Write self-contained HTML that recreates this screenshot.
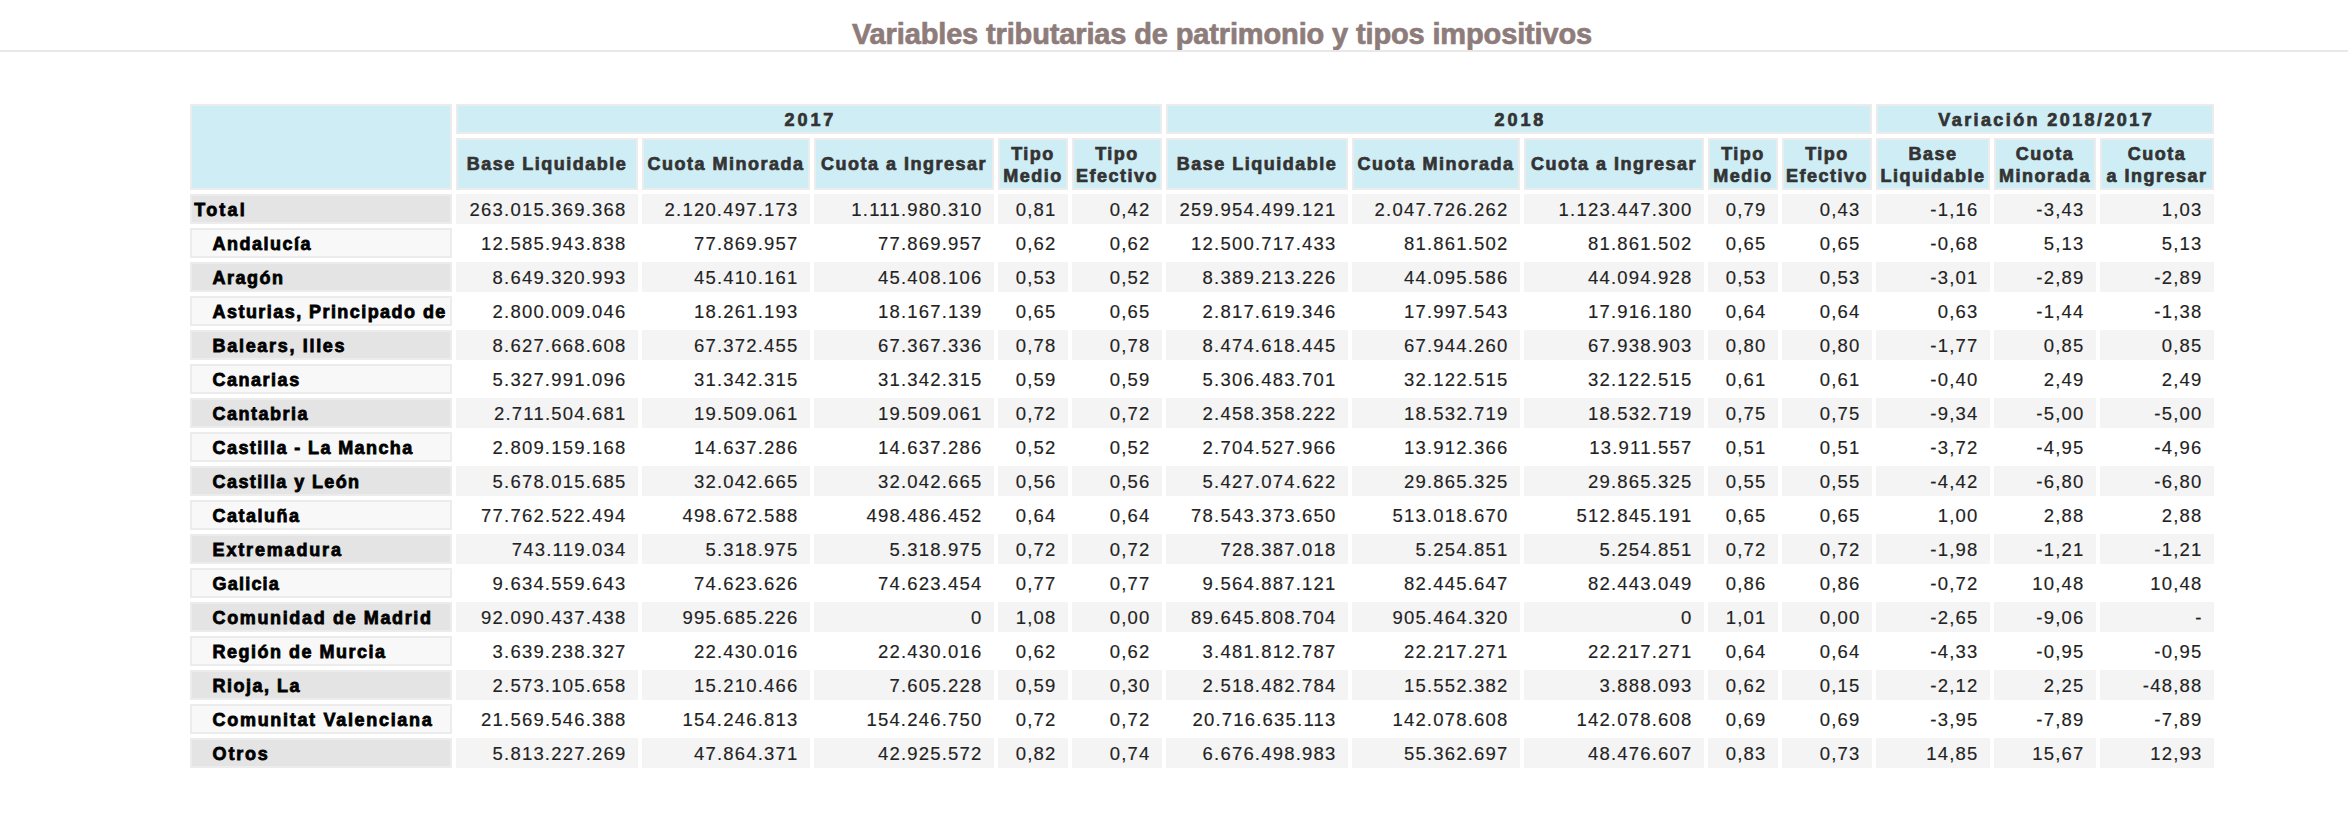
<!DOCTYPE html>
<html><head><meta charset="utf-8"><style>
*{margin:0;padding:0;box-sizing:border-box}
html,body{width:2348px;height:816px;background:#fff;overflow:hidden;position:relative;font-family:"Liberation Sans",sans-serif}
.title{position:absolute;left:0;top:19px;width:2348px;text-align:left;white-space:nowrap}
.title span{position:absolute;left:852px;font-weight:bold;font-size:29px;color:#8e7c7a;letter-spacing:-0.14px;line-height:30px;-webkit-text-stroke:0.7px #8e7c7a}
.rule{position:absolute;left:0;top:50px;width:2348px;height:2px;background:#e8e8e8}
.c{position:absolute;border:2px solid;white-space:nowrap;overflow:hidden}
.c span{position:absolute}
.h{background:#cfedf5;border-color:#ececec;color:#333;font-weight:bold;font-size:18px;letter-spacing:1.49px;-webkit-text-stroke:0.7px #333}
.h span{left:0;right:0;text-align:center}
.hy span{top:3px;line-height:22px}
.hs span{top:13px;line-height:22px}
.hs.two span{top:3px;line-height:22px}
.l{color:#000;font-weight:bold;font-size:18px;letter-spacing:1.5px;-webkit-text-stroke:0.8px #000}
.l span{left:2.3px;top:3px;line-height:22px}
.l.ind span{left:20.6px}
.lo{background:#e4e4e4;border-color:#ececec}
.le{background:#f8f8f8;border-color:#ececec}
.d{color:#222;font-size:18.5px;letter-spacing:1.2px;-webkit-text-stroke:0.15px #222}
.d span{right:9.5px;top:3px;line-height:22px}
.do{background:#f4f4f4;border-color:#f4f4f4}
.de{background:#fff;border-color:#fff}
</style></head><body>
<div class="title"><span>Variables tributarias de patrimonio y tipos impositivos</span></div>
<div class="rule"></div>
<div class="c h" style="left:190px;top:104px;width:262px;height:86px;"></div><div class="c h hy" style="left:456px;top:104px;width:706px;height:30px;"><span style="letter-spacing:2.9px;text-indent:2.9px">2017</span></div><div class="c h hy" style="left:1166px;top:104px;width:706px;height:30px;"><span style="letter-spacing:2.9px;text-indent:2.9px">2018</span></div><div class="c h hy" style="left:1876px;top:104px;width:338px;height:30px;"><span style="letter-spacing:2.4px;text-indent:2.4px">Variación 2018/2017</span></div><div class="c h hs" style="left:456px;top:138px;width:182px;height:52px;"><span>Base Liquidable</span></div><div class="c h hs" style="left:642px;top:138px;width:168px;height:52px;"><span>Cuota Minorada</span></div><div class="c h hs" style="left:814px;top:138px;width:180px;height:52px;"><span>Cuota a Ingresar</span></div><div class="c h hs two" style="left:998px;top:138px;width:70px;height:52px;"><span>Tipo<br>Medio</span></div><div class="c h hs two" style="left:1072px;top:138px;width:90px;height:52px;"><span>Tipo<br>Efectivo</span></div><div class="c h hs" style="left:1166px;top:138px;width:182px;height:52px;"><span>Base Liquidable</span></div><div class="c h hs" style="left:1352px;top:138px;width:168px;height:52px;"><span>Cuota Minorada</span></div><div class="c h hs" style="left:1524px;top:138px;width:180px;height:52px;"><span>Cuota a Ingresar</span></div><div class="c h hs two" style="left:1708px;top:138px;width:70px;height:52px;"><span>Tipo<br>Medio</span></div><div class="c h hs two" style="left:1782px;top:138px;width:90px;height:52px;"><span>Tipo<br>Efectivo</span></div><div class="c h hs two" style="left:1876px;top:138px;width:114px;height:52px;"><span>Base<br>Liquidable</span></div><div class="c h hs two" style="left:1994px;top:138px;width:102px;height:52px;"><span>Cuota<br>Minorada</span></div><div class="c h hs two" style="left:2100px;top:138px;width:114px;height:52px;"><span>Cuota<br>a Ingresar</span></div><div class="c l lo" style="left:190px;top:194px;width:262px;height:30px;"><span style="letter-spacing:2.2px">Total</span></div><div class="c d do" style="left:456px;top:194px;width:182px;height:30px;"><span>263.015.369.368</span></div><div class="c d do" style="left:642px;top:194px;width:168px;height:30px;"><span>2.120.497.173</span></div><div class="c d do" style="left:814px;top:194px;width:180px;height:30px;"><span>1.111.980.310</span></div><div class="c d do" style="left:998px;top:194px;width:70px;height:30px;"><span>0,81</span></div><div class="c d do" style="left:1072px;top:194px;width:90px;height:30px;"><span>0,42</span></div><div class="c d do" style="left:1166px;top:194px;width:182px;height:30px;"><span>259.954.499.121</span></div><div class="c d do" style="left:1352px;top:194px;width:168px;height:30px;"><span>2.047.726.262</span></div><div class="c d do" style="left:1524px;top:194px;width:180px;height:30px;"><span>1.123.447.300</span></div><div class="c d do" style="left:1708px;top:194px;width:70px;height:30px;"><span>0,79</span></div><div class="c d do" style="left:1782px;top:194px;width:90px;height:30px;"><span>0,43</span></div><div class="c d do" style="left:1876px;top:194px;width:114px;height:30px;"><span>-1,16</span></div><div class="c d do" style="left:1994px;top:194px;width:102px;height:30px;"><span>-3,43</span></div><div class="c d do" style="left:2100px;top:194px;width:114px;height:30px;"><span>1,03</span></div><div class="c l le ind" style="left:190px;top:228px;width:262px;height:30px;"><span>Andalucía</span></div><div class="c d de" style="left:456px;top:228px;width:182px;height:30px;"><span>12.585.943.838</span></div><div class="c d de" style="left:642px;top:228px;width:168px;height:30px;"><span>77.869.957</span></div><div class="c d de" style="left:814px;top:228px;width:180px;height:30px;"><span>77.869.957</span></div><div class="c d de" style="left:998px;top:228px;width:70px;height:30px;"><span>0,62</span></div><div class="c d de" style="left:1072px;top:228px;width:90px;height:30px;"><span>0,62</span></div><div class="c d de" style="left:1166px;top:228px;width:182px;height:30px;"><span>12.500.717.433</span></div><div class="c d de" style="left:1352px;top:228px;width:168px;height:30px;"><span>81.861.502</span></div><div class="c d de" style="left:1524px;top:228px;width:180px;height:30px;"><span>81.861.502</span></div><div class="c d de" style="left:1708px;top:228px;width:70px;height:30px;"><span>0,65</span></div><div class="c d de" style="left:1782px;top:228px;width:90px;height:30px;"><span>0,65</span></div><div class="c d de" style="left:1876px;top:228px;width:114px;height:30px;"><span>-0,68</span></div><div class="c d de" style="left:1994px;top:228px;width:102px;height:30px;"><span>5,13</span></div><div class="c d de" style="left:2100px;top:228px;width:114px;height:30px;"><span>5,13</span></div><div class="c l lo ind" style="left:190px;top:262px;width:262px;height:30px;"><span>Aragón</span></div><div class="c d do" style="left:456px;top:262px;width:182px;height:30px;"><span>8.649.320.993</span></div><div class="c d do" style="left:642px;top:262px;width:168px;height:30px;"><span>45.410.161</span></div><div class="c d do" style="left:814px;top:262px;width:180px;height:30px;"><span>45.408.106</span></div><div class="c d do" style="left:998px;top:262px;width:70px;height:30px;"><span>0,53</span></div><div class="c d do" style="left:1072px;top:262px;width:90px;height:30px;"><span>0,52</span></div><div class="c d do" style="left:1166px;top:262px;width:182px;height:30px;"><span>8.389.213.226</span></div><div class="c d do" style="left:1352px;top:262px;width:168px;height:30px;"><span>44.095.586</span></div><div class="c d do" style="left:1524px;top:262px;width:180px;height:30px;"><span>44.094.928</span></div><div class="c d do" style="left:1708px;top:262px;width:70px;height:30px;"><span>0,53</span></div><div class="c d do" style="left:1782px;top:262px;width:90px;height:30px;"><span>0,53</span></div><div class="c d do" style="left:1876px;top:262px;width:114px;height:30px;"><span>-3,01</span></div><div class="c d do" style="left:1994px;top:262px;width:102px;height:30px;"><span>-2,89</span></div><div class="c d do" style="left:2100px;top:262px;width:114px;height:30px;"><span>-2,89</span></div><div class="c l le ind" style="left:190px;top:296px;width:262px;height:30px;"><span style="letter-spacing:1.44px">Asturias, Principado de</span></div><div class="c d de" style="left:456px;top:296px;width:182px;height:30px;"><span>2.800.009.046</span></div><div class="c d de" style="left:642px;top:296px;width:168px;height:30px;"><span>18.261.193</span></div><div class="c d de" style="left:814px;top:296px;width:180px;height:30px;"><span>18.167.139</span></div><div class="c d de" style="left:998px;top:296px;width:70px;height:30px;"><span>0,65</span></div><div class="c d de" style="left:1072px;top:296px;width:90px;height:30px;"><span>0,65</span></div><div class="c d de" style="left:1166px;top:296px;width:182px;height:30px;"><span>2.817.619.346</span></div><div class="c d de" style="left:1352px;top:296px;width:168px;height:30px;"><span>17.997.543</span></div><div class="c d de" style="left:1524px;top:296px;width:180px;height:30px;"><span>17.916.180</span></div><div class="c d de" style="left:1708px;top:296px;width:70px;height:30px;"><span>0,64</span></div><div class="c d de" style="left:1782px;top:296px;width:90px;height:30px;"><span>0,64</span></div><div class="c d de" style="left:1876px;top:296px;width:114px;height:30px;"><span>0,63</span></div><div class="c d de" style="left:1994px;top:296px;width:102px;height:30px;"><span>-1,44</span></div><div class="c d de" style="left:2100px;top:296px;width:114px;height:30px;"><span>-1,38</span></div><div class="c l lo ind" style="left:190px;top:330px;width:262px;height:30px;"><span style="letter-spacing:1.68px">Balears, Illes</span></div><div class="c d do" style="left:456px;top:330px;width:182px;height:30px;"><span>8.627.668.608</span></div><div class="c d do" style="left:642px;top:330px;width:168px;height:30px;"><span>67.372.455</span></div><div class="c d do" style="left:814px;top:330px;width:180px;height:30px;"><span>67.367.336</span></div><div class="c d do" style="left:998px;top:330px;width:70px;height:30px;"><span>0,78</span></div><div class="c d do" style="left:1072px;top:330px;width:90px;height:30px;"><span>0,78</span></div><div class="c d do" style="left:1166px;top:330px;width:182px;height:30px;"><span>8.474.618.445</span></div><div class="c d do" style="left:1352px;top:330px;width:168px;height:30px;"><span>67.944.260</span></div><div class="c d do" style="left:1524px;top:330px;width:180px;height:30px;"><span>67.938.903</span></div><div class="c d do" style="left:1708px;top:330px;width:70px;height:30px;"><span>0,80</span></div><div class="c d do" style="left:1782px;top:330px;width:90px;height:30px;"><span>0,80</span></div><div class="c d do" style="left:1876px;top:330px;width:114px;height:30px;"><span>-1,77</span></div><div class="c d do" style="left:1994px;top:330px;width:102px;height:30px;"><span>0,85</span></div><div class="c d do" style="left:2100px;top:330px;width:114px;height:30px;"><span>0,85</span></div><div class="c l le ind" style="left:190px;top:364px;width:262px;height:30px;"><span>Canarias</span></div><div class="c d de" style="left:456px;top:364px;width:182px;height:30px;"><span>5.327.991.096</span></div><div class="c d de" style="left:642px;top:364px;width:168px;height:30px;"><span>31.342.315</span></div><div class="c d de" style="left:814px;top:364px;width:180px;height:30px;"><span>31.342.315</span></div><div class="c d de" style="left:998px;top:364px;width:70px;height:30px;"><span>0,59</span></div><div class="c d de" style="left:1072px;top:364px;width:90px;height:30px;"><span>0,59</span></div><div class="c d de" style="left:1166px;top:364px;width:182px;height:30px;"><span>5.306.483.701</span></div><div class="c d de" style="left:1352px;top:364px;width:168px;height:30px;"><span>32.122.515</span></div><div class="c d de" style="left:1524px;top:364px;width:180px;height:30px;"><span>32.122.515</span></div><div class="c d de" style="left:1708px;top:364px;width:70px;height:30px;"><span>0,61</span></div><div class="c d de" style="left:1782px;top:364px;width:90px;height:30px;"><span>0,61</span></div><div class="c d de" style="left:1876px;top:364px;width:114px;height:30px;"><span>-0,40</span></div><div class="c d de" style="left:1994px;top:364px;width:102px;height:30px;"><span>2,49</span></div><div class="c d de" style="left:2100px;top:364px;width:114px;height:30px;"><span>2,49</span></div><div class="c l lo ind" style="left:190px;top:398px;width:262px;height:30px;"><span>Cantabria</span></div><div class="c d do" style="left:456px;top:398px;width:182px;height:30px;"><span>2.711.504.681</span></div><div class="c d do" style="left:642px;top:398px;width:168px;height:30px;"><span>19.509.061</span></div><div class="c d do" style="left:814px;top:398px;width:180px;height:30px;"><span>19.509.061</span></div><div class="c d do" style="left:998px;top:398px;width:70px;height:30px;"><span>0,72</span></div><div class="c d do" style="left:1072px;top:398px;width:90px;height:30px;"><span>0,72</span></div><div class="c d do" style="left:1166px;top:398px;width:182px;height:30px;"><span>2.458.358.222</span></div><div class="c d do" style="left:1352px;top:398px;width:168px;height:30px;"><span>18.532.719</span></div><div class="c d do" style="left:1524px;top:398px;width:180px;height:30px;"><span>18.532.719</span></div><div class="c d do" style="left:1708px;top:398px;width:70px;height:30px;"><span>0,75</span></div><div class="c d do" style="left:1782px;top:398px;width:90px;height:30px;"><span>0,75</span></div><div class="c d do" style="left:1876px;top:398px;width:114px;height:30px;"><span>-9,34</span></div><div class="c d do" style="left:1994px;top:398px;width:102px;height:30px;"><span>-5,00</span></div><div class="c d do" style="left:2100px;top:398px;width:114px;height:30px;"><span>-5,00</span></div><div class="c l le ind" style="left:190px;top:432px;width:262px;height:30px;"><span style="letter-spacing:1.4px">Castilla - La Mancha</span></div><div class="c d de" style="left:456px;top:432px;width:182px;height:30px;"><span>2.809.159.168</span></div><div class="c d de" style="left:642px;top:432px;width:168px;height:30px;"><span>14.637.286</span></div><div class="c d de" style="left:814px;top:432px;width:180px;height:30px;"><span>14.637.286</span></div><div class="c d de" style="left:998px;top:432px;width:70px;height:30px;"><span>0,52</span></div><div class="c d de" style="left:1072px;top:432px;width:90px;height:30px;"><span>0,52</span></div><div class="c d de" style="left:1166px;top:432px;width:182px;height:30px;"><span>2.704.527.966</span></div><div class="c d de" style="left:1352px;top:432px;width:168px;height:30px;"><span>13.912.366</span></div><div class="c d de" style="left:1524px;top:432px;width:180px;height:30px;"><span>13.911.557</span></div><div class="c d de" style="left:1708px;top:432px;width:70px;height:30px;"><span>0,51</span></div><div class="c d de" style="left:1782px;top:432px;width:90px;height:30px;"><span>0,51</span></div><div class="c d de" style="left:1876px;top:432px;width:114px;height:30px;"><span>-3,72</span></div><div class="c d de" style="left:1994px;top:432px;width:102px;height:30px;"><span>-4,95</span></div><div class="c d de" style="left:2100px;top:432px;width:114px;height:30px;"><span>-4,96</span></div><div class="c l lo ind" style="left:190px;top:466px;width:262px;height:30px;"><span style="letter-spacing:1.39px">Castilla y León</span></div><div class="c d do" style="left:456px;top:466px;width:182px;height:30px;"><span>5.678.015.685</span></div><div class="c d do" style="left:642px;top:466px;width:168px;height:30px;"><span>32.042.665</span></div><div class="c d do" style="left:814px;top:466px;width:180px;height:30px;"><span>32.042.665</span></div><div class="c d do" style="left:998px;top:466px;width:70px;height:30px;"><span>0,56</span></div><div class="c d do" style="left:1072px;top:466px;width:90px;height:30px;"><span>0,56</span></div><div class="c d do" style="left:1166px;top:466px;width:182px;height:30px;"><span>5.427.074.622</span></div><div class="c d do" style="left:1352px;top:466px;width:168px;height:30px;"><span>29.865.325</span></div><div class="c d do" style="left:1524px;top:466px;width:180px;height:30px;"><span>29.865.325</span></div><div class="c d do" style="left:1708px;top:466px;width:70px;height:30px;"><span>0,55</span></div><div class="c d do" style="left:1782px;top:466px;width:90px;height:30px;"><span>0,55</span></div><div class="c d do" style="left:1876px;top:466px;width:114px;height:30px;"><span>-4,42</span></div><div class="c d do" style="left:1994px;top:466px;width:102px;height:30px;"><span>-6,80</span></div><div class="c d do" style="left:2100px;top:466px;width:114px;height:30px;"><span>-6,80</span></div><div class="c l le ind" style="left:190px;top:500px;width:262px;height:30px;"><span>Cataluña</span></div><div class="c d de" style="left:456px;top:500px;width:182px;height:30px;"><span>77.762.522.494</span></div><div class="c d de" style="left:642px;top:500px;width:168px;height:30px;"><span>498.672.588</span></div><div class="c d de" style="left:814px;top:500px;width:180px;height:30px;"><span>498.486.452</span></div><div class="c d de" style="left:998px;top:500px;width:70px;height:30px;"><span>0,64</span></div><div class="c d de" style="left:1072px;top:500px;width:90px;height:30px;"><span>0,64</span></div><div class="c d de" style="left:1166px;top:500px;width:182px;height:30px;"><span>78.543.373.650</span></div><div class="c d de" style="left:1352px;top:500px;width:168px;height:30px;"><span>513.018.670</span></div><div class="c d de" style="left:1524px;top:500px;width:180px;height:30px;"><span>512.845.191</span></div><div class="c d de" style="left:1708px;top:500px;width:70px;height:30px;"><span>0,65</span></div><div class="c d de" style="left:1782px;top:500px;width:90px;height:30px;"><span>0,65</span></div><div class="c d de" style="left:1876px;top:500px;width:114px;height:30px;"><span>1,00</span></div><div class="c d de" style="left:1994px;top:500px;width:102px;height:30px;"><span>2,88</span></div><div class="c d de" style="left:2100px;top:500px;width:114px;height:30px;"><span>2,88</span></div><div class="c l lo ind" style="left:190px;top:534px;width:262px;height:30px;"><span style="letter-spacing:1.83px">Extremadura</span></div><div class="c d do" style="left:456px;top:534px;width:182px;height:30px;"><span>743.119.034</span></div><div class="c d do" style="left:642px;top:534px;width:168px;height:30px;"><span>5.318.975</span></div><div class="c d do" style="left:814px;top:534px;width:180px;height:30px;"><span>5.318.975</span></div><div class="c d do" style="left:998px;top:534px;width:70px;height:30px;"><span>0,72</span></div><div class="c d do" style="left:1072px;top:534px;width:90px;height:30px;"><span>0,72</span></div><div class="c d do" style="left:1166px;top:534px;width:182px;height:30px;"><span>728.387.018</span></div><div class="c d do" style="left:1352px;top:534px;width:168px;height:30px;"><span>5.254.851</span></div><div class="c d do" style="left:1524px;top:534px;width:180px;height:30px;"><span>5.254.851</span></div><div class="c d do" style="left:1708px;top:534px;width:70px;height:30px;"><span>0,72</span></div><div class="c d do" style="left:1782px;top:534px;width:90px;height:30px;"><span>0,72</span></div><div class="c d do" style="left:1876px;top:534px;width:114px;height:30px;"><span>-1,98</span></div><div class="c d do" style="left:1994px;top:534px;width:102px;height:30px;"><span>-1,21</span></div><div class="c d do" style="left:2100px;top:534px;width:114px;height:30px;"><span>-1,21</span></div><div class="c l le ind" style="left:190px;top:568px;width:262px;height:30px;"><span style="letter-spacing:1.2px">Galicia</span></div><div class="c d de" style="left:456px;top:568px;width:182px;height:30px;"><span>9.634.559.643</span></div><div class="c d de" style="left:642px;top:568px;width:168px;height:30px;"><span>74.623.626</span></div><div class="c d de" style="left:814px;top:568px;width:180px;height:30px;"><span>74.623.454</span></div><div class="c d de" style="left:998px;top:568px;width:70px;height:30px;"><span>0,77</span></div><div class="c d de" style="left:1072px;top:568px;width:90px;height:30px;"><span>0,77</span></div><div class="c d de" style="left:1166px;top:568px;width:182px;height:30px;"><span>9.564.887.121</span></div><div class="c d de" style="left:1352px;top:568px;width:168px;height:30px;"><span>82.445.647</span></div><div class="c d de" style="left:1524px;top:568px;width:180px;height:30px;"><span>82.443.049</span></div><div class="c d de" style="left:1708px;top:568px;width:70px;height:30px;"><span>0,86</span></div><div class="c d de" style="left:1782px;top:568px;width:90px;height:30px;"><span>0,86</span></div><div class="c d de" style="left:1876px;top:568px;width:114px;height:30px;"><span>-0,72</span></div><div class="c d de" style="left:1994px;top:568px;width:102px;height:30px;"><span>10,48</span></div><div class="c d de" style="left:2100px;top:568px;width:114px;height:30px;"><span>10,48</span></div><div class="c l lo ind" style="left:190px;top:602px;width:262px;height:30px;"><span style="letter-spacing:1.63px">Comunidad de Madrid</span></div><div class="c d do" style="left:456px;top:602px;width:182px;height:30px;"><span>92.090.437.438</span></div><div class="c d do" style="left:642px;top:602px;width:168px;height:30px;"><span>995.685.226</span></div><div class="c d do" style="left:814px;top:602px;width:180px;height:30px;"><span>0</span></div><div class="c d do" style="left:998px;top:602px;width:70px;height:30px;"><span>1,08</span></div><div class="c d do" style="left:1072px;top:602px;width:90px;height:30px;"><span>0,00</span></div><div class="c d do" style="left:1166px;top:602px;width:182px;height:30px;"><span>89.645.808.704</span></div><div class="c d do" style="left:1352px;top:602px;width:168px;height:30px;"><span>905.464.320</span></div><div class="c d do" style="left:1524px;top:602px;width:180px;height:30px;"><span>0</span></div><div class="c d do" style="left:1708px;top:602px;width:70px;height:30px;"><span>1,01</span></div><div class="c d do" style="left:1782px;top:602px;width:90px;height:30px;"><span>0,00</span></div><div class="c d do" style="left:1876px;top:602px;width:114px;height:30px;"><span>-2,65</span></div><div class="c d do" style="left:1994px;top:602px;width:102px;height:30px;"><span>-9,06</span></div><div class="c d do" style="left:2100px;top:602px;width:114px;height:30px;"><span>-</span></div><div class="c l le ind" style="left:190px;top:636px;width:262px;height:30px;"><span>Región de Murcia</span></div><div class="c d de" style="left:456px;top:636px;width:182px;height:30px;"><span>3.639.238.327</span></div><div class="c d de" style="left:642px;top:636px;width:168px;height:30px;"><span>22.430.016</span></div><div class="c d de" style="left:814px;top:636px;width:180px;height:30px;"><span>22.430.016</span></div><div class="c d de" style="left:998px;top:636px;width:70px;height:30px;"><span>0,62</span></div><div class="c d de" style="left:1072px;top:636px;width:90px;height:30px;"><span>0,62</span></div><div class="c d de" style="left:1166px;top:636px;width:182px;height:30px;"><span>3.481.812.787</span></div><div class="c d de" style="left:1352px;top:636px;width:168px;height:30px;"><span>22.217.271</span></div><div class="c d de" style="left:1524px;top:636px;width:180px;height:30px;"><span>22.217.271</span></div><div class="c d de" style="left:1708px;top:636px;width:70px;height:30px;"><span>0,64</span></div><div class="c d de" style="left:1782px;top:636px;width:90px;height:30px;"><span>0,64</span></div><div class="c d de" style="left:1876px;top:636px;width:114px;height:30px;"><span>-4,33</span></div><div class="c d de" style="left:1994px;top:636px;width:102px;height:30px;"><span>-0,95</span></div><div class="c d de" style="left:2100px;top:636px;width:114px;height:30px;"><span>-0,95</span></div><div class="c l lo ind" style="left:190px;top:670px;width:262px;height:30px;"><span>Rioja, La</span></div><div class="c d do" style="left:456px;top:670px;width:182px;height:30px;"><span>2.573.105.658</span></div><div class="c d do" style="left:642px;top:670px;width:168px;height:30px;"><span>15.210.466</span></div><div class="c d do" style="left:814px;top:670px;width:180px;height:30px;"><span>7.605.228</span></div><div class="c d do" style="left:998px;top:670px;width:70px;height:30px;"><span>0,59</span></div><div class="c d do" style="left:1072px;top:670px;width:90px;height:30px;"><span>0,30</span></div><div class="c d do" style="left:1166px;top:670px;width:182px;height:30px;"><span>2.518.482.784</span></div><div class="c d do" style="left:1352px;top:670px;width:168px;height:30px;"><span>15.552.382</span></div><div class="c d do" style="left:1524px;top:670px;width:180px;height:30px;"><span>3.888.093</span></div><div class="c d do" style="left:1708px;top:670px;width:70px;height:30px;"><span>0,62</span></div><div class="c d do" style="left:1782px;top:670px;width:90px;height:30px;"><span>0,15</span></div><div class="c d do" style="left:1876px;top:670px;width:114px;height:30px;"><span>-2,12</span></div><div class="c d do" style="left:1994px;top:670px;width:102px;height:30px;"><span>2,25</span></div><div class="c d do" style="left:2100px;top:670px;width:114px;height:30px;"><span>-48,88</span></div><div class="c l le ind" style="left:190px;top:704px;width:262px;height:30px;"><span style="letter-spacing:1.69px">Comunitat Valenciana</span></div><div class="c d de" style="left:456px;top:704px;width:182px;height:30px;"><span>21.569.546.388</span></div><div class="c d de" style="left:642px;top:704px;width:168px;height:30px;"><span>154.246.813</span></div><div class="c d de" style="left:814px;top:704px;width:180px;height:30px;"><span>154.246.750</span></div><div class="c d de" style="left:998px;top:704px;width:70px;height:30px;"><span>0,72</span></div><div class="c d de" style="left:1072px;top:704px;width:90px;height:30px;"><span>0,72</span></div><div class="c d de" style="left:1166px;top:704px;width:182px;height:30px;"><span>20.716.635.113</span></div><div class="c d de" style="left:1352px;top:704px;width:168px;height:30px;"><span>142.078.608</span></div><div class="c d de" style="left:1524px;top:704px;width:180px;height:30px;"><span>142.078.608</span></div><div class="c d de" style="left:1708px;top:704px;width:70px;height:30px;"><span>0,69</span></div><div class="c d de" style="left:1782px;top:704px;width:90px;height:30px;"><span>0,69</span></div><div class="c d de" style="left:1876px;top:704px;width:114px;height:30px;"><span>-3,95</span></div><div class="c d de" style="left:1994px;top:704px;width:102px;height:30px;"><span>-7,89</span></div><div class="c d de" style="left:2100px;top:704px;width:114px;height:30px;"><span>-7,89</span></div><div class="c l lo ind" style="left:190px;top:738px;width:262px;height:30px;"><span style="letter-spacing:1.8px">Otros</span></div><div class="c d do" style="left:456px;top:738px;width:182px;height:30px;"><span>5.813.227.269</span></div><div class="c d do" style="left:642px;top:738px;width:168px;height:30px;"><span>47.864.371</span></div><div class="c d do" style="left:814px;top:738px;width:180px;height:30px;"><span>42.925.572</span></div><div class="c d do" style="left:998px;top:738px;width:70px;height:30px;"><span>0,82</span></div><div class="c d do" style="left:1072px;top:738px;width:90px;height:30px;"><span>0,74</span></div><div class="c d do" style="left:1166px;top:738px;width:182px;height:30px;"><span>6.676.498.983</span></div><div class="c d do" style="left:1352px;top:738px;width:168px;height:30px;"><span>55.362.697</span></div><div class="c d do" style="left:1524px;top:738px;width:180px;height:30px;"><span>48.476.607</span></div><div class="c d do" style="left:1708px;top:738px;width:70px;height:30px;"><span>0,83</span></div><div class="c d do" style="left:1782px;top:738px;width:90px;height:30px;"><span>0,73</span></div><div class="c d do" style="left:1876px;top:738px;width:114px;height:30px;"><span>14,85</span></div><div class="c d do" style="left:1994px;top:738px;width:102px;height:30px;"><span>15,67</span></div><div class="c d do" style="left:2100px;top:738px;width:114px;height:30px;"><span>12,93</span></div>
</body></html>
